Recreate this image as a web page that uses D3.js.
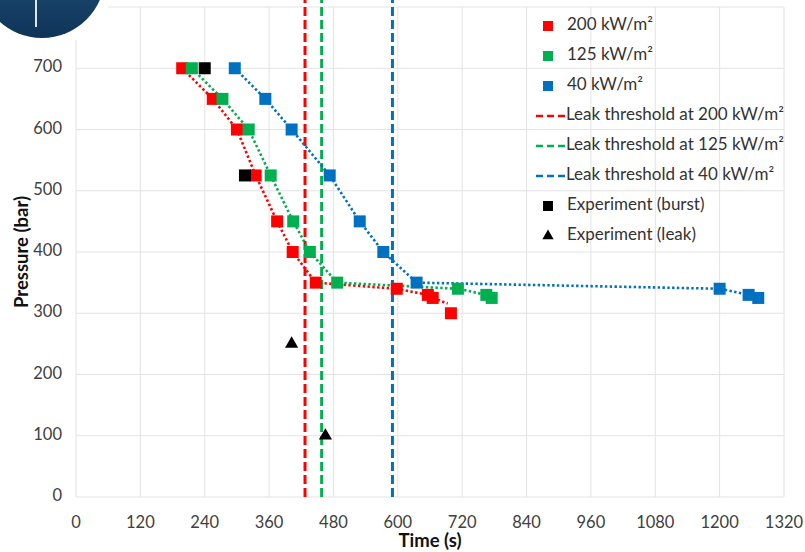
<!DOCTYPE html>
<html>
<head>
<meta charset="utf-8">
<script src="https://cdn.jsdelivr.net/npm/d3@7"></script>
<style>
  body { margin: 0; background: #fff; }
  text { font-family: Lato, "Open Sans", sans-serif; fill: #404040; }
  .tick-label { font-size: 16.5px; }
  .axis-title { font-size: 18.5px; font-weight: bold; fill: #111; }
  .legend-text { font-size: 17px; fill: #333; }
</style>
</head>
<body>
<svg id="chart" width="805" height="552"></svg>
<script>
// time in s, pressure in bar
const red_t = [198, 255, 300, 335, 375, 404, 447, 598, 656, 665, 699];
const red_p = [700, 650, 600, 525, 450, 400, 350, 340, 330, 325, 300];
const redLine_t = [198, 255, 300, 335, 375, 404, 447, 598, 656, 665, 693];
const redLine_p = [700, 650, 600, 525, 450, 400, 350, 340, 330, 325, 316];

const green_t = [216, 273, 322, 363, 405, 436, 487, 712, 765, 775];
const green_p = [700, 650, 600, 525, 450, 400, 350, 340, 330, 325];

const blue_t = [296, 353, 402, 473, 529, 573, 635, 1200, 1254, 1272];
const blue_p = [700, 650, 600, 525, 450, 400, 350, 340, 330, 325];

const burst_t = [240, 315];
const burst_p = [700, 525];
const leak_t = [402, 465];
const leak_p = [250, 100];

const thresholds = [427, 458, 590];
const thresholdColors = ["#FF0000", "#00B050", "#0070C0"];

const xTicks = d3.range(0, 1321, 120);
const yGrid = d3.range(0, 801, 100);
const yLabels = d3.range(0, 701, 100);

const legendLabels = [
  "200 kW/m\u00b2",
  "125 kW/m\u00b2",
  "40 kW/m\u00b2",
  "Leak threshold at 200 kW/m\u00b2",
  "Leak threshold at 125 kW/m\u00b2",
  "Leak threshold at 40 kW/m\u00b2",
  "Experiment (burst)",
  "Experiment (leak)"
];
const legendKinds = ["square", "square", "square", "dash", "dash", "dash", "square", "triangle"];
const legendColors = ["#FF0000", "#00B050", "#0070C0", "#FF0000", "#00B050", "#0070C0", "#000", "#000"];

const svg = d3.select("#chart");
const x = d3.scaleLinear().domain([0, 1320]).range([76, 784]);
const y = d3.scaleLinear().domain([0, 800]).range([497, 7]);

// grid
svg.append("g")
  .selectAll("line")
  .data(yGrid)
  .join("line")
  .attr("x1", x(0))
  .attr("x2", x(1320))
  .attr("y1", (d) => y(d))
  .attr("y2", (d) => y(d))
  .attr("stroke", "#e3e3e3")
  .attr("stroke-width", 1);

svg.append("g")
  .selectAll("line")
  .data(xTicks)
  .join("line")
  .attr("x1", (d) => x(d))
  .attr("x2", (d) => x(d))
  .attr("y1", y(0))
  .attr("y2", y(800))
  .attr("stroke", "#e3e3e3")
  .attr("stroke-width", 1);

// tick labels
svg.append("g")
  .selectAll("text")
  .data(xTicks)
  .join("text")
  .attr("class", "tick-label")
  .attr("x", (d) => x(d))
  .attr("y", y(0) + 31)
  .attr("text-anchor", "middle")
  .text((d) => d);

svg.append("g")
  .selectAll("text")
  .data(yLabels)
  .join("text")
  .attr("class", "tick-label")
  .attr("x", x(0) - 14)
  .attr("y", (d) => y(d))
  .attr("dominant-baseline", "middle")
  .attr("text-anchor", "end")
  .text((d) => d);

// axis titles
svg.append("text")
  .attr("class", "axis-title")
  .attr("x", (x(0) + x(1320)) / 2)
  .attr("y", 547)
  .attr("text-anchor", "middle")
  .text("Time (s)");

svg.append("text")
  .attr("class", "axis-title")
  .attr("transform", "translate(28," + (y(0) + y(800)) / 2 + ") rotate(-90)")
  .attr("text-anchor", "middle")
  .text("Pressure (bar)");

// threshold lines
svg.append("g")
  .selectAll("line")
  .data(thresholds)
  .join("line")
  .attr("x1", (d) => x(d))
  .attr("x2", (d) => x(d))
  .attr("y1", y(0))
  .attr("y2", 0)
  .attr("stroke", (d, i) => thresholdColors[i])
  .attr("stroke-width", 3)
  .attr("stroke-dasharray", "9,4");

// dotted curves
const line = d3.line()
  .x((d) => x(d[0]))
  .y((d) => y(d[1]));

const curves = [
  [d3.zip(redLine_t, redLine_p), "#FF0000"],
  [d3.zip(green_t, green_p), "#00B050"],
  [d3.zip(blue_t, blue_p), "#0070C0"]
];

curves.forEach(([pts, col]) => {
  svg.append("path")
    .attr("d", line(pts))
    .attr("fill", "none")
    .attr("stroke", col)
    .attr("stroke-width", 2.6)
    .attr("stroke-dasharray", "2.4,2.4");
});

// markers
const sq = 12;
function squares(ts, ps, col) {
  svg.append("g")
    .selectAll("rect")
    .data(d3.zip(ts, ps))
    .join("rect")
    .attr("x", (d) => x(d[0]) - sq / 2)
    .attr("y", (d) => y(d[1]) - sq / 2)
    .attr("width", sq)
    .attr("height", sq)
    .attr("fill", col);
}
squares(red_t, red_p, "#FF0000");
squares(green_t, green_p, "#00B050");
squares(blue_t, blue_p, "#0070C0");
squares(burst_t, burst_p, "#000");

const tri = d3.symbol().type(d3.symbolTriangle).size(75);
svg.append("g")
  .selectAll("path")
  .data(d3.zip(leak_t, leak_p))
  .join("path")
  .attr("d", tri)
  .attr("transform", (d) => "translate(" + x(d[0]) + "," + y(d[1]) + ")")
  .attr("fill", "#000");

// legend
const legend = svg.append("g").attr("transform", "translate(536,26)");
const items = legend
  .selectAll("g")
  .data(legendLabels)
  .join("g")
  .attr("transform", (d, i) => "translate(0," + i * 30 + ")");

items.each(function (d, i) {
  const g = d3.select(this);
  if (legendKinds[i] == "square") {
    g.append("rect")
      .attr("x", 7)
      .attr("y", -5)
      .attr("width", 10)
      .attr("height", 10)
      .attr("fill", legendColors[i]);
  } else if (legendKinds[i] == "triangle") {
    g.append("path")
      .attr("d", d3.symbol().type(d3.symbolTriangle).size(55))
      .attr("transform", "translate(12,0)")
      .attr("fill", legendColors[i]);
  } else {
    g.append("line")
      .attr("x1", 0)
      .attr("x2", 29)
      .attr("stroke", legendColors[i])
      .attr("stroke-width", 2.6)
      .attr("stroke-dasharray", "7,4");
  }
  g.append("text")
    .attr("class", "legend-text")
    .attr("x", legendKinds[i] == "dash" ? 30 : 31)
    .attr("y", 0)
    .attr("dominant-baseline", "middle")
    .text(d);
});

// logo in the corner
svg.append("rect")
  .attr("x", 0)
  .attr("y", 0)
  .attr("width", 108)
  .attr("height", 40)
  .attr("fill", "#fff");

const grad = svg.append("defs")
  .append("linearGradient")
  .attr("id", "logo")
  .attr("x1", 0).attr("y1", 0).attr("x2", 0).attr("y2", 1);
grad.append("stop").attr("offset", "0%").attr("stop-color", "#2b5f8e");
grad.append("stop").attr("offset", "100%").attr("stop-color", "#0f3457");

svg.append("circle")
  .attr("cx", 42)
  .attr("cy", -25)
  .attr("r", 63)
  .attr("fill", "url(#logo)");

svg.append("line")
  .attr("x1", 36)
  .attr("x2", 36)
  .attr("y1", 0)
  .attr("y2", 27)
  .attr("stroke", "#dfe8f0")
  .attr("stroke-width", 2);
</script>
</body>
</html>
